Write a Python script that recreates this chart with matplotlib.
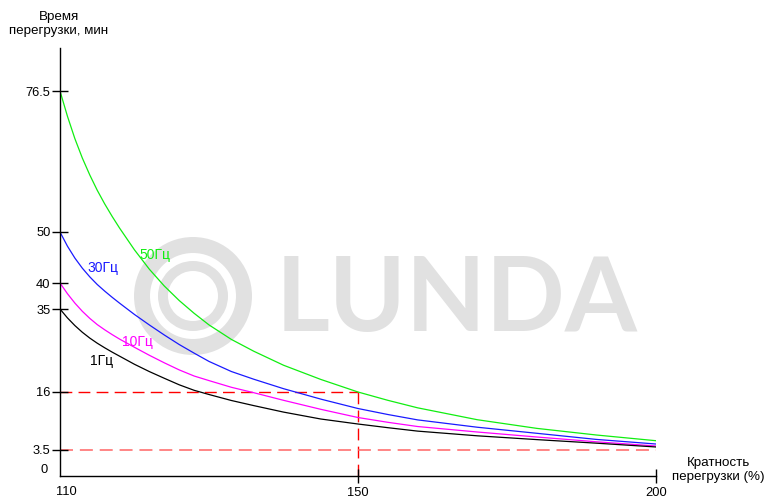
import numpy as np
import matplotlib
matplotlib.use('Agg')
import matplotlib.pyplot as plt
from matplotlib.patches import Annulus

plt.rcParams['font.family'] = ['Liberation Sans', 'DejaVu Sans']

# overload ratio (%) and allowed overload time (min) for each frequency
overload = [110, 111, 112, 113, 114, 115, 116, 117, 118, 120, 122, 124, 126,
            128, 130, 133, 136, 140, 145, 150, 155, 160, 170, 180, 190, 200]
time_50hz = [76.5, 71.75, 67.53, 63.89, 60.71, 57.84, 55.28, 52.93, 50.73, 46.49, 42.69, 39.42, 36.63,
             34.02, 31.36, 28.04, 25.34, 22.13, 18.88, 16.0, 14.21, 12.59, 10.03, 8.16, 6.73, 5.50]
time_30hz = [50.0, 47.22, 44.88, 42.90, 41.20, 39.71, 38.44, 37.25, 36.12, 33.74, 31.34, 29.05, 26.87,
             24.90, 23.00, 20.69, 18.93, 16.76, 14.47, 12.44, 11.15, 9.99, 8.41, 7.10, 5.78, 4.79]
time_10hz = [40.0, 37.94, 36.13, 34.47, 32.85, 31.43, 30.24, 29.14, 28.11, 26.23, 24.40, 22.68, 21.06,
             19.66, 18.61, 17.08, 15.85, 14.21, 12.27, 10.50, 9.47, 8.56, 7.38, 6.30, 5.27, 4.36]
time_1hz = [35.0, 32.96, 31.20, 29.67, 28.34, 27.17, 26.12, 25.13, 24.20, 22.34, 20.67, 19.14, 17.65,
            16.39, 15.46, 14.17, 13.07, 11.67, 10.18, 9.10, 8.31, 7.57, 6.56, 5.74, 4.97, 4.15]

y_ticks = [3.5, 16, 35, 40, 50, 76.5]
x_ticks = [150, 200]

# reference point marked with dashed lines
check_overload = 150
check_time = 16
min_time = 3.5

# the original axes are not linear: piecewise mapping value -> pixel offset
Y_KNOTS = [0, 3.5, 16, 35, 40, 50, 76.5, 84.6]
Y_POS = [0, 26, 84, 167, 193, 244, 385, 428]
X_KNOTS = [110, 150, 200]
X_POS = [0, 298, 596]


def piecewise(knots, pos):
    fwd = lambda v: np.interp(v, knots, pos)
    inv = lambda p: np.interp(p, pos, knots)
    return fwd, inv


fig = plt.figure(figsize=(7.67, 4.99), dpi=100)
ax = fig.add_axes([60 / 767, 23 / 499, 596 / 767, 428 / 499])
ax.set_xscale('function', functions=piecewise(X_KNOTS, X_POS))
ax.set_yscale('function', functions=piecewise(Y_KNOTS, Y_POS))
ax.set_xlim(110, 200)
ax.set_ylim(0, 84.6)

# watermark: logo rings + company name, fitted to the width seen in the picture
wm_color = '#e1e1e1'
for r, w in [(0.59, 0.16), (0.35, 0.10)]:
    ring = Annulus((1.93, 2.03), r, w, transform=fig.dpi_scale_trans,
                   color=wm_color, zorder=0, clip_on=False, lw=0)
    ax.add_patch(ring)
wm = ax.text(457 / 767, 1 - 301 / 499, 'LUNDA', transform=fig.transFigure, ha='center',
             va='center', fontsize=80, family=['Liberation Sans Narrow', 'Lato'],
             fontweight='bold', color=wm_color, zorder=0)
fig.canvas.draw()
bb = wm.get_window_extent()
wm.set_fontsize(80 * 362 / bb.width)

# dashed guide lines
ax.plot([110, check_overload], [check_time, check_time], color='#ff0000', lw=1, dashes=(8.5, 4.5), zorder=1)
ax.plot([check_overload, check_overload], [0, check_time], color='#ff0000', lw=1, dashes=(8.5, 4.5), zorder=1)
ax.plot([110, 200], [min_time, min_time], color='#ff6464', lw=1.1, dashes=(8.5, 4.5), zorder=1)

curves = [
    (time_50hz, '#11ee11', '50Гц', (122.8, 45.5)),
    (time_30hz, '#1a1aff', '30Гц', (115.8, 42.9)),
    (time_10hz, '#ff00ff', '10Гц', (120.4, 27.45)),
    (time_1hz, '#000000', '1Гц', (115.6, 23.1)),
]
for times, color, label, (lx, ly) in curves:
    ax.plot(overload, times, color=color, lw=0.9, zorder=2)
    ax.text(lx, ly, label, color=color, fontsize=10, ha='center', va='center', zorder=3)

for side in ['top', 'right']:
    ax.spines[side].set_visible(False)
for side in ['left', 'bottom']:
    ax.spines[side].set_linewidth(1.0)

ax.set_yticks(y_ticks)
ax.set_yticklabels([str(t) for t in y_ticks])
ax.set_xticks(x_ticks)
ax.set_xticklabels([str(t) for t in x_ticks])
ax.tick_params(axis='y', direction='inout', length=11.5, width=1, pad=1, labelsize=9.3)
ax.tick_params(axis='x', direction='inout', length=9.4, width=1, pad=3, labelsize=9.3)
ax.minorticks_off()
ax.annotate('0', xy=(110, 0), xytext=(-12, 6), textcoords='offset pixels',
            ha='right', va='center', fontsize=9.3)
ax.annotate('110', xy=(110, 0), xytext=(6.5, -16), textcoords='offset pixels',
            ha='center', va='center', fontsize=9.3)

fig.text(59 / 767, 1 - 24 / 499, 'Время\nперегрузки, мин', ha='center', va='center',
         fontsize=9.6, linespacing=1.3)
fig.text(718 / 767, 1 - 470 / 499, 'Кратность\nперегрузки (%)', ha='center', va='center',
         fontsize=9.6, linespacing=1.3)

fig.savefig('out.png', dpi=100)
